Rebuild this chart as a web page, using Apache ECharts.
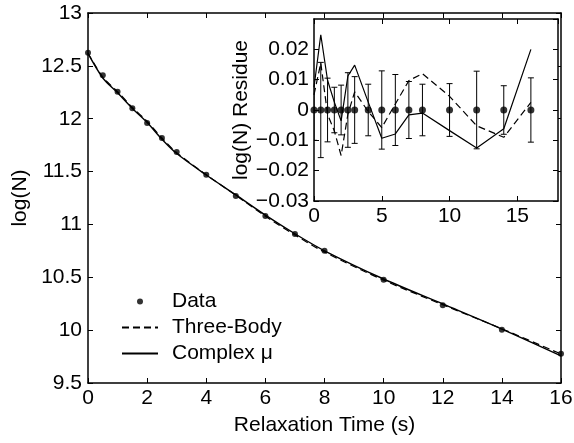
<!DOCTYPE html>
<html>
<head>
<meta charset="utf-8">
<script src="https://cdn.jsdelivr.net/npm/echarts@6/dist/echarts.min.js"></script>
<style>
html, body { margin: 0; padding: 0; background: #fff; }
#relax-chart { width: 574px; height: 443px; }
</style>
</head>
<body>
<div id="relax-chart"></div>
<script>
// relaxation times (s)
var times = [0, 0.5, 1, 1.5, 2, 2.5, 3, 4, 5, 6, 7, 8, 10, 12, 14, 16];
// measured log(N)
var logN = [12.625, 12.41, 12.255, 12.10, 11.96, 11.817, 11.685, 11.47, 11.27, 11.08, 10.91, 10.75, 10.477, 10.235, 10.004, 9.777];
// error bar half-heights in the residue inset
var errBar = [0.010, 0.0157, 0.0105, 0.0075, 0.0082, 0.0123, 0.011, 0.0085, 0.0129, 0.0117, 0.0094, 0.0085, 0.0087, 0.0128, 0.008, 0.0106];
// residues (data - fit)
var resComplex = [0.0075, 0.0248, 0.0098, 0.0026, -0.0036, 0.0112, 0.0148, 0.0026, -0.0093, -0.0079, -0.0016, -0.0010, -0.0068, -0.0125, -0.0062, 0.0200];
var resThreeBody = [0.005, 0.0155, -0.0014, -0.0069, -0.0150, -0.0014, 0.0060, -0.0005, -0.0058, 0.0020, 0.0097, 0.0120, 0.0045, -0.0052, -0.0090, 0.0025];

var FONT = "'Liberation Sans', Arial, Helvetica, sans-serif";
var FS = 21;

function pairs(ys) {
  return times.map(function (t, i) { return [t, ys[i]]; });
}
function fitFrom(res) {
  return times.map(function (t, i) { return [t, logN[i] - res[i]]; });
}

function boxAxis(extra) {
  var base = {
    axisLine: { show: true, onZero: false, lineStyle: { color: '#000', width: 1.5 } },
    axisTick: { show: true, inside: true, length: 5, lineStyle: { color: '#000', width: 1 } },
    axisLabel: { show: true, color: '#000', fontSize: FS, fontFamily: FONT },
    splitLine: { show: false }
  };
  return Object.assign(base, extra);
}

function renderErrBar(params, api) {
  var x = api.value(0);
  var lo = api.coord([x, api.value(1)]);
  var hi = api.coord([x, api.value(2)]);
  var cap = 3;
  var st = { stroke: '#000', lineWidth: 1 };
  return {
    type: 'group',
    children: [
      { type: 'line', shape: { x1: lo[0], y1: lo[1], x2: hi[0], y2: hi[1] }, style: st },
      { type: 'line', shape: { x1: lo[0] - cap, y1: lo[1], x2: lo[0] + cap, y2: lo[1] }, style: st },
      { type: 'line', shape: { x1: hi[0] - cap, y1: hi[1], x2: hi[0] + cap, y2: hi[1] }, style: st }
    ]
  };
}

var noLabel = { show: false };

var option = {
  animation: false,
  backgroundColor: '#fff',
  textStyle: { fontFamily: FONT },
  grid: [
    { left: 88, right: 13, top: 13, bottom: 60, outerBoundsMode: 'none' },
    { left: 314, right: 16, top: 19, bottom: 242, outerBoundsMode: 'none',
      show: true, backgroundColor: '#fff', borderWidth: 0, z: 5 }
  ],
  legend: {
    data: [
      { name: 'Data' },
      { name: 'Three-Body', itemStyle: { opacity: 0 } },
      { name: 'Complex μ', itemStyle: { opacity: 0 } }
    ],
    orient: 'vertical',
    left: 121,
    top: 291,
    padding: 0,
    itemWidth: 36,
    itemHeight: 6,
    itemGap: 5,
    selectedMode: false,
    textStyle: { fontSize: FS, fontFamily: FONT, color: '#000', lineHeight: 21, padding: [0, 0, 0, 9] }
  },
  xAxis: [
    boxAxis({ gridIndex: 0, type: 'value', position: 'bottom', min: 0, max: 16, interval: 2,
      name: 'Relaxation Time (s)', nameLocation: 'middle', nameGap: 32,
      nameTextStyle: { color: '#000', fontSize: FS, fontFamily: FONT },
      axisLabel: { color: '#000', fontSize: FS, fontFamily: FONT, margin: 5 } }),
    boxAxis({ gridIndex: 0, type: 'value', position: 'top', min: 0, max: 16, interval: 2, axisLabel: noLabel }),
    boxAxis({ gridIndex: 1, type: 'value', position: 'bottom', min: 0, max: 18, interval: 5,
      axisLabel: { color: '#000', fontSize: FS, fontFamily: FONT, margin: 5, showMaxLabel: false }, z: 6 }),
    boxAxis({ gridIndex: 1, type: 'value', position: 'top', min: 0, max: 18, interval: 5, axisLabel: noLabel, z: 6 })
  ],
  yAxis: [
    boxAxis({ gridIndex: 0, type: 'value', position: 'left', min: 9.5, max: 13, interval: 0.5,
      name: 'log(N)', nameLocation: 'middle', nameGap: 54,
      nameTextStyle: { color: '#000', fontSize: FS, fontFamily: FONT },
      axisLabel: { color: '#000', fontSize: FS, fontFamily: FONT, margin: 6 } }),
    boxAxis({ gridIndex: 0, type: 'value', position: 'right', min: 9.5, max: 13, interval: 0.5, axisLabel: noLabel }),
    boxAxis({ gridIndex: 1, type: 'value', position: 'left', min: -0.03, max: 0.03, interval: 0.01,
      name: 'log(N) Residue', nameLocation: 'middle', nameGap: 62,
      nameTextStyle: { color: '#000', fontSize: FS, fontFamily: FONT },
      axisLabel: { color: '#000', fontSize: FS, fontFamily: FONT, margin: 5, showMaxLabel: false,
        formatter: function (v) {
          if (Math.abs(v) < 1e-9) return '0';
          return v.toFixed(2).replace('-', '\u2212');
        } }, z: 6 }),
    boxAxis({ gridIndex: 1, type: 'value', position: 'right', min: -0.03, max: 0.03, interval: 0.01, axisLabel: noLabel, z: 6 })
  ],
  series: [
    {
      name: 'Data', type: 'scatter', xAxisIndex: 0, yAxisIndex: 0,
      data: pairs(logN), symbol: 'circle', symbolSize: 6, symbolKeepAspect: true,
      itemStyle: { color: '#000' }, z: 4
    },
    {
      name: 'Three-Body', type: 'line', xAxisIndex: 0, yAxisIndex: 0,
      data: fitFrom(resThreeBody), symbol: 'none', smooth: 0.3,
      lineStyle: { color: '#000', width: 1.2, type: [7, 4] }, itemStyle: { color: '#000' }
    },
    {
      name: 'Complex μ', type: 'line', xAxisIndex: 0, yAxisIndex: 0,
      data: fitFrom(resComplex), symbol: 'none', smooth: 0.3,
      lineStyle: { color: '#000', width: 1.4 }, itemStyle: { color: '#000' }, z: 3
    },
    {
      name: 'errInset', type: 'custom', xAxisIndex: 2, yAxisIndex: 2,
      renderItem: renderErrBar, clip: true,
      encode: { x: 0, y: [1, 2] },
      data: times.map(function (t, i) { return [t, -errBar[i], errBar[i]]; }), z: 7
    },
    {
      name: 'threeInset', type: 'line', xAxisIndex: 2, yAxisIndex: 2,
      data: pairs(resThreeBody), symbol: 'none',
      lineStyle: { color: '#000', width: 1.2, type: [7, 4] }, z: 7
    },
    {
      name: 'complexInset', type: 'line', xAxisIndex: 2, yAxisIndex: 2,
      data: pairs(resComplex), symbol: 'none',
      lineStyle: { color: '#000', width: 1.2 }, z: 7
    },
    {
      name: 'dataInset', type: 'scatter', xAxisIndex: 2, yAxisIndex: 2,
      data: times.map(function (t) { return [t, 0]; }), symbol: 'circle', symbolSize: 7,
      itemStyle: { color: '#000' }, z: 8
    }
  ]
};

var myChart = echarts.init(document.getElementById('relax-chart'), null, { renderer: 'canvas' });
myChart.setOption(option);
</script>
</body>
</html>
